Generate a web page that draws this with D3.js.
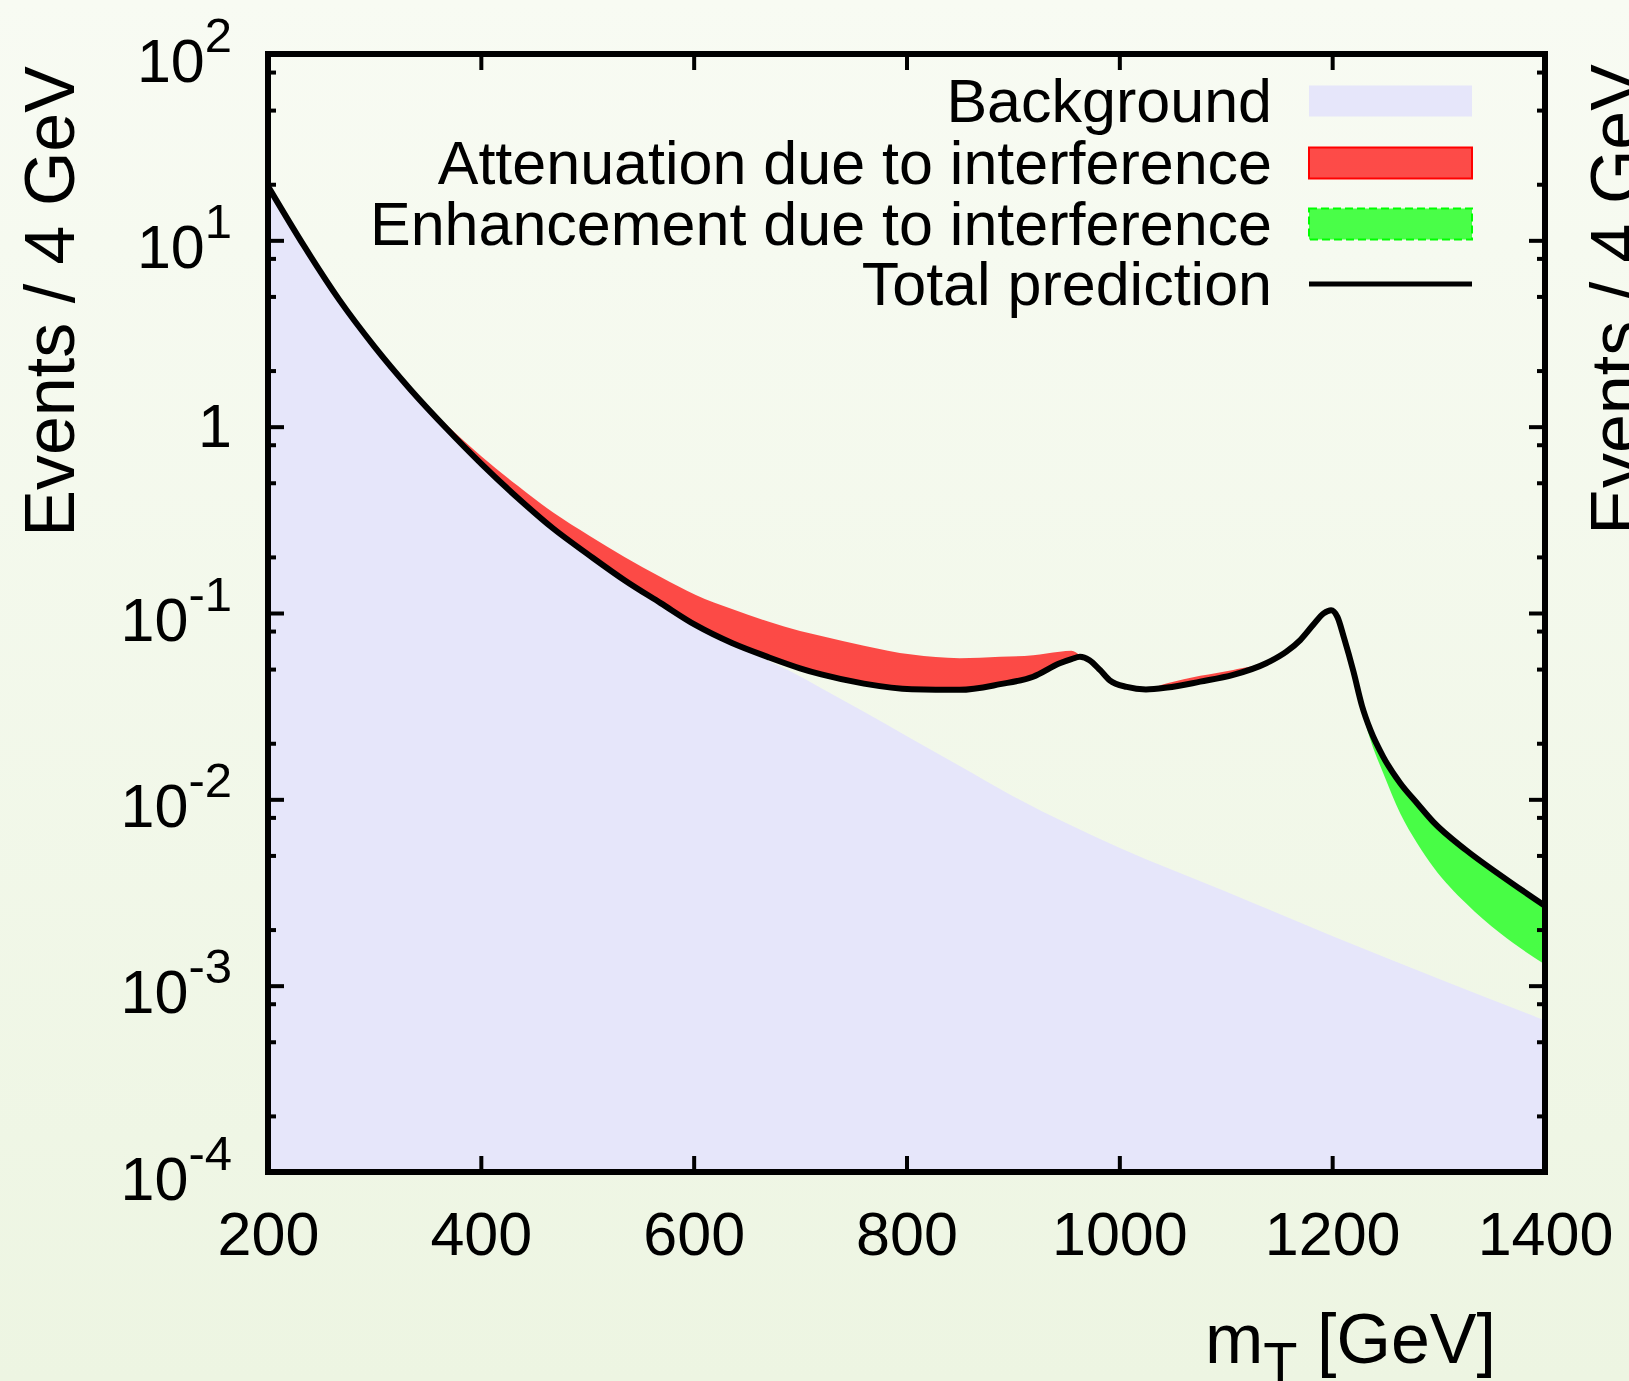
<!DOCTYPE html>
<html>
<head>
<meta charset="utf-8">
<title>mT distribution</title>
<style>
  body { margin: 0; }
  svg { display: block; font-family: "Liberation Sans", Arial, Helvetica, sans-serif; }
</style>
</head>
<body>
<div id="chart"></div>
<script src="https://d3js.org/d3.v7.min.js"></script>
<script>

let mT = [200, 234, 267, 300, 334, 368, 401, 435, 468, 502, 535, 569, 602, 636, 670,
  700, 720, 760, 805, 850, 888, 919, 944, 955, 963, 972, 982, 991, 1007, 1025,
  1045, 1076, 1107, 1138, 1157, 1170, 1182, 1192, 1199, 1205, 1211, 1220, 1228, 1236, 1248,
  1264, 1280, 1295, 1326, 1358, 1400];

// total prediction (with interference)
let totalPred = [19.5, 9.3, 4.79, 2.69, 1.58, 0.975, 0.628, 0.413, 0.284, 0.204, 0.150, 0.113, 0.086, 0.069, 0.058,
  0.0505, 0.0468, 0.0418, 0.0390, 0.0387, 0.0415, 0.0455, 0.0537, 0.0565, 0.0582, 0.0558, 0.0493, 0.0435, 0.0401, 0.0389,
  0.0398, 0.0428, 0.0465, 0.0537, 0.062, 0.0716, 0.0861, 0.0995, 0.1035, 0.095, 0.074, 0.0485, 0.0318, 0.0235, 0.0169,
  0.0122, 0.0095, 0.00757, 0.00533, 0.00392, 0.00268];

// signal + background without interference
let noInterference = [19.5, 9.3, 4.79, 2.69, 1.60, 1.02, 0.69, 0.48, 0.346, 0.26, 0.20, 0.156, 0.125, 0.105, 0.090,
  0.080, 0.0752, 0.0668, 0.0598, 0.0572, 0.0582, 0.0594, 0.0620, 0.0628, 0.0595, 0.0558, 0.0493, 0.0435, 0.0401, 0.0392,
  0.0420, 0.0460, 0.0495, 0.0545, 0.062, 0.0716, 0.0861, 0.0995, 0.1030, 0.093, 0.070, 0.045, 0.0300, 0.0208, 0.0138,
  0.0084, 0.0058, 0.00434, 0.00276, 0.00191, 0.00130];

// background only
let bkgMass = [200, 234, 267, 300, 334, 368, 401, 435, 468, 502, 535, 569, 602, 636, 670,
  690, 720, 760, 800, 850, 900, 1000, 1100, 1200, 1300, 1400];
let background = [19.5, 9.3, 4.79, 2.69, 1.58, 0.975, 0.628, 0.413, 0.284, 0.204, 0.150, 0.113, 0.086, 0.068, 0.0555,
  0.049, 0.0395, 0.0295, 0.0219, 0.0151, 0.0104, 0.0055, 0.0032, 0.00185, 0.00109, 0.00065];

let xTicks = [200, 400, 600, 800, 1000, 1200, 1400];
let yTicks = [1e-4, 1e-3, 1e-2, 1e-1, 1, 10, 100];
let yTickLabels = ["10^-4", "10^-3", "10^-2", "10^-1", "1", "10^1", "10^2"];
let yMinorSteps = [2, 5, 8];

let legendLabels = ["Background", "Attenuation due to interference",
  "Enhancement due to interference", "Total prediction"];

// layout
let W = 1629, H = 1381;
let margin = {top: 54, left: 268};
let width = 1277, height = 1118;

let xScale = d3.scaleLinear().domain([200, 1400]).range([0, width]);
let yScale = d3.scaleLog().domain([1e-4, 100]).range([height, 0]);

let svg = d3.select("#chart").append("svg")
  .attr("width", W)
  .attr("height", H);

let defs = svg.append("defs");
let grad = defs.append("linearGradient")
  .attr("id", "bg").attr("x1", 0).attr("y1", 0).attr("x2", 0).attr("y2", 1);
grad.append("stop").attr("offset", "0%").attr("stop-color", "#f8fbf3");
grad.append("stop").attr("offset", "100%").attr("stop-color", "#edf5e2");

defs.append("clipPath").attr("id", "plotclip")
  .append("rect").attr("width", width).attr("height", height);

svg.append("rect").attr("width", W).attr("height", H).attr("fill", "url(#bg)");

let g = svg.append("g")
  .attr("transform", "translate(" + margin.left + "," + margin.top + ")");

let plot = g.append("g").attr("clip-path", "url(#plotclip)");
let idx = d3.range(mT.length);

// background fill
plot.append("path")
  .datum(d3.range(bkgMass.length))
  .attr("fill", "#e6e6fa")
  .attr("d", d3.area()
    .x(i => xScale(bkgMass[i]))
    .y0(height)
    .y1(i => yScale(background[i]))
    .curve(d3.curveMonotoneX));

// attenuation band (no-interference above total)
plot.append("path")
  .datum(idx)
  .attr("fill", "#ff0000").attr("fill-opacity", 0.7)
  .attr("d", d3.area()
    .x(i => xScale(mT[i]))
    .y0(i => yScale(totalPred[i]))
    .y1(i => yScale(Math.max(noInterference[i], totalPred[i])))
    .curve(d3.curveMonotoneX));

// enhancement band (no-interference below total)
plot.append("path")
  .datum(idx)
  .attr("fill", "#00ff00").attr("fill-opacity", 0.7)
  .attr("d", d3.area()
    .x(i => xScale(mT[i]))
    .y0(i => yScale(totalPred[i]))
    .y1(i => yScale(Math.min(noInterference[i], totalPred[i])))
    .curve(d3.curveMonotoneX));

// total prediction
plot.append("path")
  .datum(idx)
  .attr("fill", "none")
  .attr("stroke", "black")
  .attr("stroke-width", 6)
  .attr("d", d3.line()
    .x(i => xScale(mT[i]))
    .y(i => yScale(totalPred[i]))
    .curve(d3.curveMonotoneX));

// axes
let yMinor = [];
yTicks.slice(0, -1).forEach(function(d) {
  yMinorSteps.forEach(function(s) { yMinor.push(d * s); });
});

function styleAxis(sel) {
  sel.select(".domain").remove();
  sel.selectAll(".tick line").attr("stroke", "black").attr("stroke-width", 4);
  sel.attr("font-family", null).attr("font-size", 61);
  sel.selectAll(".tick text").attr("fill", "black");
}

g.append("g")
  .attr("transform", "translate(0," + height + ")")
  .call(d3.axisBottom(xScale).tickValues(xTicks).tickSizeInner(-16).tickSizeOuter(0)
    .tickPadding(40).tickFormat(d3.format("d")))
  .call(styleAxis);

g.append("g")
  .call(d3.axisTop(xScale).tickValues(xTicks).tickSizeInner(-16).tickSizeOuter(0).tickFormat(""))
  .call(styleAxis);

let yLeft = g.append("g")
  .call(d3.axisLeft(yScale).tickValues(yTicks).tickSizeInner(-16).tickSizeOuter(0)
    .tickPadding(36).tickFormat(d => yTickLabels[yTicks.indexOf(d)]))
  .call(styleAxis);

yLeft.selectAll(".tick text").each(function(d) {
  let label = yTickLabels[yTicks.indexOf(d)];
  let parts = label.split("^");
  if (parts.length < 2) return;
  let t = d3.select(this).text(null).attr("dy", 27);
  t.append("tspan").text(parts[0]);
  t.append("tspan").attr("dy", -30).attr("font-size", 49).text(parts[1]);
});

g.append("g")
  .call(d3.axisLeft(yScale).tickValues(yMinor).tickSizeInner(-8).tickSizeOuter(0).tickFormat(""))
  .call(styleAxis);

g.append("g")
  .attr("transform", "translate(" + width + ",0)")
  .call(d3.axisRight(yScale).tickValues(yTicks).tickSizeInner(-16).tickSizeOuter(0).tickFormat(""))
  .call(styleAxis);

g.append("g")
  .attr("transform", "translate(" + width + ",0)")
  .call(d3.axisRight(yScale).tickValues(yMinor).tickSizeInner(-8).tickSizeOuter(0).tickFormat(""))
  .call(styleAxis);

// frame
g.append("rect")
  .attr("width", width).attr("height", height)
  .attr("fill", "none").attr("stroke", "black").attr("stroke-width", 6);

// axis titles
svg.append("text")
  .attr("transform", "translate(74,66) rotate(-90)")
  .attr("text-anchor", "end")
  .attr("font-size", 70)
  .text("Events / 4 GeV");

// cut-off title of the neighbouring panel
svg.append("text")
  .attr("transform", "translate(1640,64) rotate(-90)")
  .attr("text-anchor", "end")
  .attr("font-size", 70)
  .text("Events / 4 GeV");

let xt = svg.append("text")
  .attr("x", 1496).attr("y", 1363)
  .attr("text-anchor", "end")
  .attr("font-size", 70);
xt.append("tspan").text("m");
xt.append("tspan").attr("dy", 18).attr("font-size", 56).text("T");
xt.append("tspan").attr("dy", -18).text(" [GeV]");

// legend
let legend = svg.append("g");
let rowY = [101, 163, 224, 284];
let sx = 1309, sw = 163, sh = 31;

legendLabels.forEach(function(lab, i) {
  legend.append("text")
    .attr("x", 1272).attr("y", rowY[i] + 21)
    .attr("text-anchor", "end")
    .attr("font-size", 61)
    .text(lab);
});

legend.append("rect")
  .attr("x", sx).attr("y", rowY[0] - sh / 2).attr("width", sw).attr("height", sh)
  .attr("fill", "#e6e6fa");
legend.append("rect")
  .attr("x", sx).attr("y", rowY[1] - sh / 2).attr("width", sw).attr("height", sh)
  .attr("fill", "#ff0000").attr("fill-opacity", 0.7)
  .attr("stroke", "#ff0000").attr("stroke-width", 2);
legend.append("rect")
  .attr("x", sx).attr("y", rowY[2] - sh / 2).attr("width", sw).attr("height", sh)
  .attr("fill", "#00ff00").attr("fill-opacity", 0.7)
  .attr("stroke", "#00ff00").attr("stroke-width", 2).attr("stroke-dasharray", "8,4");
legend.append("line")
  .attr("x1", sx).attr("x2", sx + sw).attr("y1", rowY[3]).attr("y2", rowY[3])
  .attr("stroke", "black").attr("stroke-width", 5);

</script>
</body>
</html>
